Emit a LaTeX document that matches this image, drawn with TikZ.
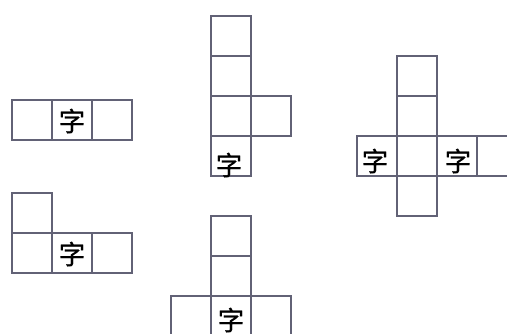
\documentclass[tikz,border=0pt]{standalone}
\usepackage{fontspec}
\newfontfamily\cjk[FakeBold=0.8]{Noto Sans CJK SC}
\definecolor{gridline}{RGB}{98,98,118}
\begin{document}
\begin{tikzpicture}[x=1pt,y=-1pt,
  cell/.style={draw=gridline,line width=1.2pt,minimum size=40pt,inner sep=0pt,rectangle},
  glyph/.style={font=\cjk\fontsize{26.5}{26.5}\selectfont,inner sep=0pt,text=black}]
\useasboundingbox (0,0) rectangle (507,334);
% Shape A
\node[cell] (a1) at (32,120) {};
\node[cell] (a2) at (72,120) {};
\node[cell] (a3) at (112,120) {};
\node[glyph] (at) at (72,121) {字};
% Shape B
\node[cell] (b0) at (32,213) {};
\node[cell] (b1) at (32,253) {};
\node[cell] (b2) at (72,253) {};
\node[cell] (b3) at (112,253) {};
\node[glyph] (bt) at (72,254) {字};
% Shape C
\node[cell] (c1) at (231,36) {};
\node[cell] (c2) at (231,76) {};
\node[cell] (c3) at (231,116) {};
\node[cell] (c4) at (231,156) {};
\node[cell] (c5) at (271,116) {};
\node[glyph] (ct) at (229,165) {字};
% Shape D
\node[cell] (d1) at (231,236) {};
\node[cell] (d2) at (231,276) {};
\node[cell] (d3) at (191,316) {};
\node[cell] (d4) at (231,316) {};
\node[cell] (d5) at (271,316) {};
\node[glyph] (dt) at (231,320) {字};
% Shape E
\node[cell] (e1) at (417,76) {};
\node[cell] (e2) at (417,116) {};
\node[cell] (e3) at (417,156) {};
\node[cell] (e4) at (417,196) {};
\node[cell] (e5) at (377,156) {};
\node[cell] (e6) at (457,156) {};
\node[cell] (e7) at (497,156) {};
\node[glyph] (et1) at (375,161) {字};
\node[glyph] (et2) at (458,161) {字};
\end{tikzpicture}
\end{document}
